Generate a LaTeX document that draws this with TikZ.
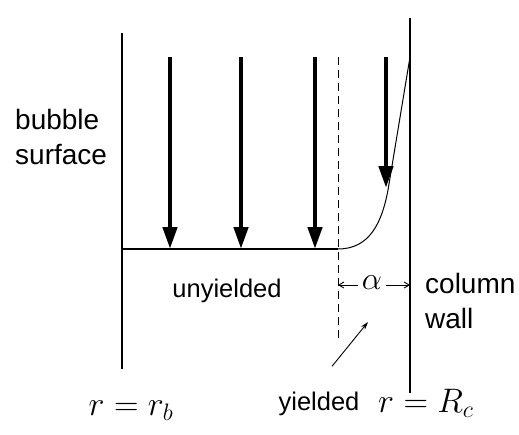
\RequirePackage{fix-cm}
\documentclass[tikz,border=0pt]{standalone}
\usepackage[no-math]{fontspec}
\setmainfont{Liberation Sans}
\usetikzlibrary{arrows.meta}
\begin{document}
\begin{tikzpicture}[
  x=1pt, y=-1pt,
  >=stealth,
  wallline/.style={draw=black, line width=1.3pt},
  bedline/.style={draw=black, line width=1.2pt},
  yieldline/.style={draw=black, line width=1pt, dash pattern=on 8pt off 5pt},
  flowarr/.style={-{Triangle[length=22pt,width=14pt]}, draw=black, line width=4.5pt},
  gaparr/.style={-{Straight Barb[length=5pt,width=6pt]}, draw=black, line width=0.9pt},
  notearr/.style={-{Stealth[length=8pt,width=5pt]}, draw=black, line width=0.9pt},
  sidelbl/.style={font={\fontsize{28}{35}\selectfont}, align=left, anchor=west, inner sep=0pt},
  zonelbl/.style={font={\fontsize{25.5}{30}\selectfont}, anchor=base, inner sep=0pt},
  radlbl/.style={font={\fontsize{34}{40}\selectfont}, inner sep=0pt}
]
\useasboundingbox (0,0) rectangle (519,434);
\coordinate (bubtop) at (122,33);
\coordinate (bubbot) at (122,369);
\coordinate (coltop) at (410,18);
\coordinate (colbot) at (410,393);
\coordinate (bedleft) at (122,249);
\coordinate (bedright) at (338,249);
\coordinate (bend) at (388,190);
\coordinate (wallhit) at (410,57);
\coordinate (yldtop) at (338,57);
\coordinate (yldbot) at (338,340);
\coordinate (f1s) at (170,57);
\coordinate (f1e) at (170,249);
\coordinate (f2s) at (241,57);
\coordinate (f2e) at (241,249);
\coordinate (f3s) at (315,57);
\coordinate (f3e) at (315,249);
\coordinate (f4s) at (386,57);
\coordinate (f4e) at (386,188);
\coordinate (gapl) at (338,285);
\coordinate (gapr) at (410,285);
\node[sidelbl] (bubble) at (15,137) {bubble\\surface};
\node[sidelbl] (column) at (425,301) {column\\wall};
\node[zonelbl] (unyld) at (227,297) {unyielded};
\node[zonelbl] (yld) at (319,410) {yielded};
\node[radlbl, anchor=base] (rb) at (131,415) {$r=r_b$};
\node[radlbl, anchor=base west] (rc) at (378,412) {$r=R_c$};
\node[font={\fontsize{32}{34}\selectfont}, inner sep=0pt] (alpha) at (372,283) {$\alpha$};
\coordinate (ydpoint) at (368,322);
\draw[wallline] (bubtop) -- (bubbot);
\draw[wallline] (coltop) -- (colbot);
\draw[yieldline] (yldtop) -- (yldbot);
\draw[bedline] (bedleft) -- (bedright);
\draw[draw=black, line width=1pt] (bedright) .. controls (370,249) and (382,222) .. (bend) -- (wallhit);
\draw[flowarr] (f1s) -- (f1e);
\draw[flowarr] (f2s) -- (f2e);
\draw[flowarr] (f3s) -- (f3e);
\draw[flowarr] (f4s) -- (f4e);
\draw[gaparr] (alpha.west) ++(-4,2) -- (gapl);
\draw[gaparr] (alpha.east) ++(4,2) -- (gapr);
\draw[notearr] (yld.north) ++(13,-25) -- (ydpoint);
\end{tikzpicture}
\end{document}
